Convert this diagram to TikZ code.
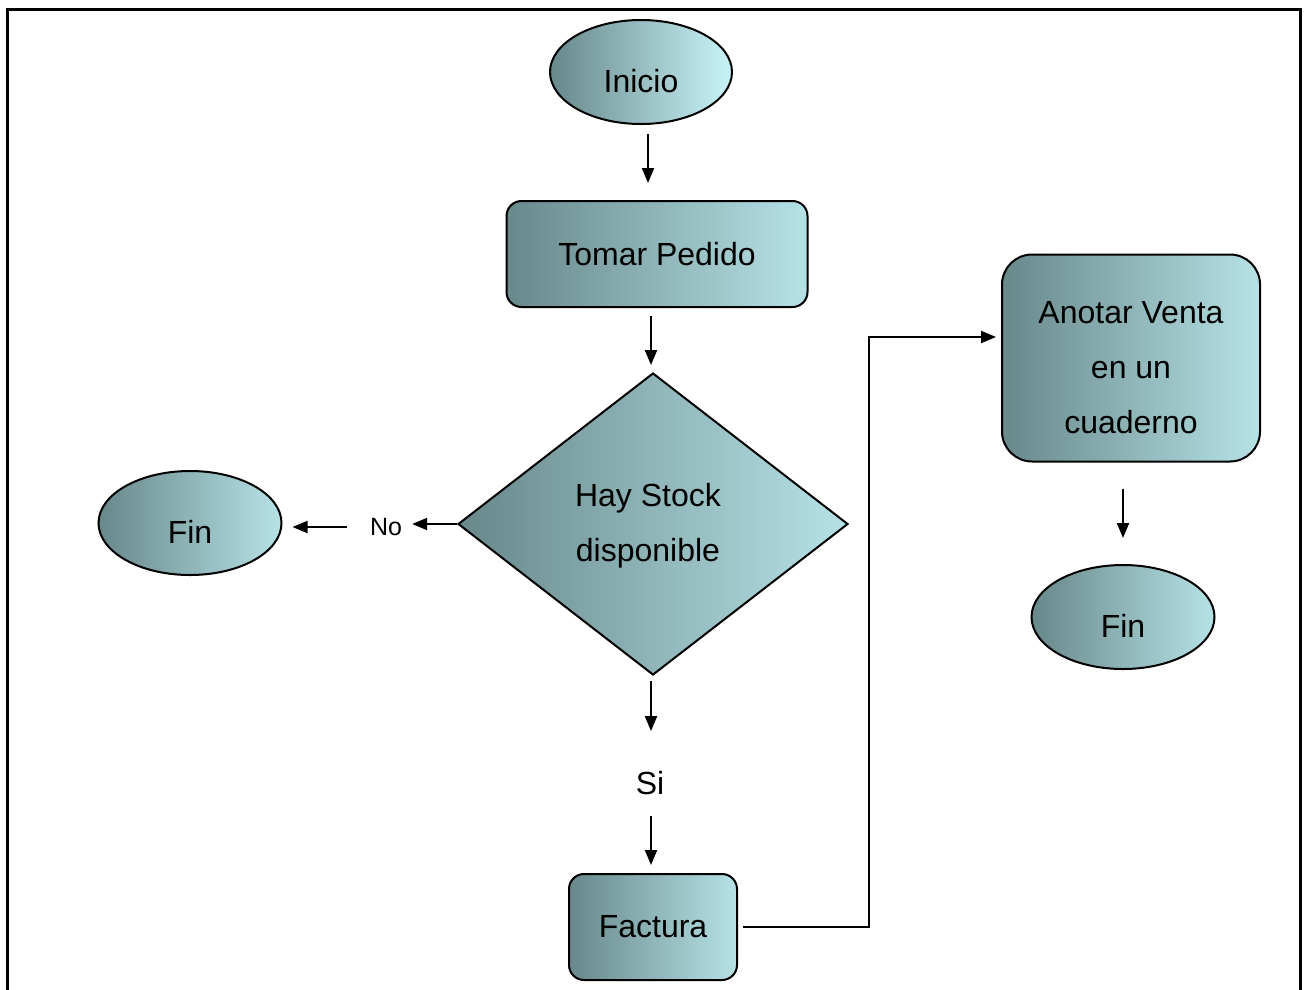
\documentclass[tikz,border=0pt]{standalone}
\usepackage{fontspec}
\setmainfont{Liberation Sans}
\usetikzlibrary{shapes.geometric}
\usetikzlibrary{arrows.meta}

\begin{document}
\begin{tikzpicture}[x=1pt, y=-1pt,
  base/.style={draw=black, line width=2pt, left color=tealdark, right color=teallight,
               font=\fontsize{32}{55}\selectfont, align=center},
  term/.style={base, ellipse, inner sep=0pt, minimum width=183pt, minimum height=104pt,
               text height=40pt, text depth=0pt},
  box/.style={base, rectangle, rounded corners=15pt, inner sep=0pt},
  decide/.style={base, diamond, inner sep=0pt, minimum width=390pt, minimum height=302pt},
  flow/.style={line width=2pt, -{Triangle[length=15pt, width=12pt]}},
  lbl/.style={inner sep=0pt, font=\fontsize{25}{30}\selectfont}]

%─────────────
% Controls
%─────────────
\definecolor{tealdark}{RGB}{104,136,138}   % left side of the fill
\definecolor{teallight}{RGB}{182,226,230}  % right side of the fill
\definecolor{cyanlight}{RGB}{200,244,248}  % lighter end for Inicio

\useasboundingbox (0,0) rectangle (1309,989);
\draw[line width=3pt] (7,9) rectangle (1300,1000);

%─────────────
% Nodes
%─────────────
\node[term, right color=cyanlight, minimum width=182pt] (inicio) at (641,72) {Inicio};
\node[box, minimum width=301pt, minimum height=106pt] (pedido) at (657,254) {Tomar Pedido};
\node[decide] (stock) at (653,524) {\rule{0pt}{27pt}Hay Stock\hspace*{10pt}\\disponible\hspace*{10pt}};
\node[lbl] (no) at (386,527) {No};
\node[term] (finno) at (190,523) {Fin};
\node[lbl, font=\fontsize{32}{40}\selectfont] (si) at (650,783) {Si};
\node[box, minimum width=168pt, minimum height=106pt] (factura) at (653,927) {Factura};
\node[box, rounded corners=30pt, minimum width=258pt, minimum height=207pt] (venta) at (1131,358)
  {\rule{0pt}{41pt}Anotar Venta\\en un\\cuaderno};
\node[term] (finsi) at (1123,617) {Fin};

\coordinate (elbow) at (869,337);

%─────────────
% Connectors
%─────────────
\draw[flow, shorten <=9pt, shorten >=17pt] ([xshift=7pt]inicio.south) -- ([xshift=7pt]inicio.south |- pedido.north);
\draw[flow, shorten <=8pt, shorten >=7pt] ([xshift=-2pt]stock.north |- pedido.south) -- ([xshift=-2pt]stock.north);

% No branch
\draw[flow, shorten >=10pt] (stock.west) -- (stock.west -| no.east);
\draw[flow, shorten <=23pt, shorten >=10pt] (no.west) -- (no.west -| finno.east);

% Si branch
\draw[flow, shorten <=5pt, shorten >=40pt] ([xshift=-2pt]stock.south) -- ([xshift=-2pt]stock.south |- si.north);
\draw[flow, shorten <=21pt, shorten >=8pt] ([xshift=1pt]si.south) -- ([xshift=1pt]si.south |- factura.north);
\draw[flow, shorten <=5pt, shorten >=5pt] (factura.east) -| (elbow) -- (elbow -| venta.west);
\draw[flow, shorten <=26pt, shorten >=26pt] (finsi.north |- venta.south) -- (finsi.north);

\end{tikzpicture}
\end{document}
